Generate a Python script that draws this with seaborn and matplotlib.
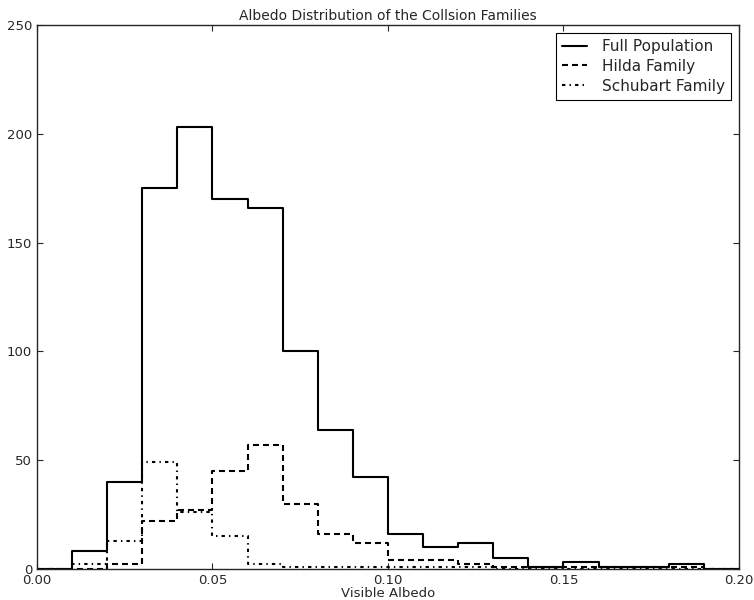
import numpy as np
import pandas as pd
import matplotlib
matplotlib.use("Agg")
import matplotlib.pyplot as plt
import seaborn as sns

# Counts per albedo bin (bins of 0.01 from 0.00 to 0.19)
bin_centers = [0.005, 0.015, 0.025, 0.035, 0.045, 0.055, 0.065, 0.075, 0.085, 0.095,
               0.105, 0.115, 0.125, 0.135, 0.145, 0.155, 0.165, 0.175, 0.185]
full_counts = [0, 8, 40, 175, 203, 170, 166, 100, 64, 42,
               16, 10, 12, 5, 1, 3, 1, 1, 2]
hilda_counts = [0, 0, 2, 22, 27, 45, 57, 30, 16, 12,
                4, 4, 2, 1, 1, 1, 1, 1, 1]
schubart_counts = [0, 2, 13, 49, 26, 15, 2, 1, 1, 1,
                   1, 1, 1, 0, 0, 0, 0, 0, 0]
labels = ["Full Population", "Hilda Family", "Schubart Family"]

sns.set_style("ticks")
plt.rcParams.update({
    "font.family": ["DejaVu Sans"],
    "xtick.direction": "in", "ytick.direction": "in",
    "xtick.top": True, "ytick.right": True,
    "xtick.major.size": 4, "ytick.major.size": 4,
    "axes.linewidth": 1.0,
    "lines.scale_dashes": False,
})

fig = plt.figure(figsize=(7.54, 6.0), dpi=100)
ax = fig.add_axes([0.049, 0.052, 0.931, 0.906])

# extra empty bin (0.19-0.20) closes the outline at 0.19
edges = np.linspace(0, 0.20, 21).tolist()
styles = ["-", (0, (4.3, 2.9)), (0, (2.4, 3.0, 1.0, 3.0))]
for counts, lab, ls in zip([full_counts, hilda_counts, schubart_counts], labels, styles):
    df = pd.DataFrame({"albedo": bin_centers, "n": counts})
    sns.histplot(data=df, x="albedo", weights="n", bins=edges, element="step",
                 fill=False, color="black", linestyle=ls, linewidth=1.5,
                 label=lab, ax=ax)

ax.set_xlim(0, 0.20)
ax.set_ylim(0, 250)
ax.set_xticks([0.0, 0.05, 0.10, 0.15, 0.20])
ax.set_xticklabels(["0.00", "0.05", "0.10", "0.15", "0.20"])
ax.set_yticks([0, 50, 100, 150, 200, 250])
ax.tick_params(labelsize=9.5)
ax.set_xlabel("Visible Albedo", fontsize=9.5, labelpad=0)
ax.set_ylabel("")
ax.set_title("Albedo Distribution of the Collsion Families", fontsize=10, pad=4)

leg = ax.legend(loc="upper right", fontsize=11, handlelength=1.6, handletextpad=1.0,
                fancybox=False, framealpha=1, edgecolor="black",
                borderaxespad=0.5, borderpad=0.4, labelspacing=0.32)
leg.get_frame().set_linewidth(0.8)

fig.savefig("out.png", dpi=100)
